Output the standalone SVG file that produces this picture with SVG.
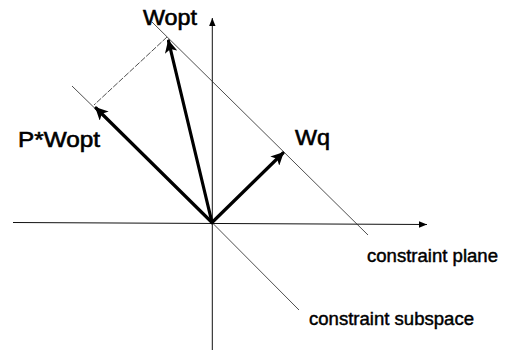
<svg xmlns="http://www.w3.org/2000/svg" width="506" height="352" viewBox="0 0 506 352">
<style>
.axis{stroke:#111;stroke-width:1;fill:none}
.thin{stroke:#222;stroke-width:0.8;fill:none}
.vec{stroke:#000;stroke-width:3.2;fill:none;stroke-linecap:round}
.lbl{font-family:"Liberation Sans",Arial,sans-serif;fill:#000;stroke:#000;stroke-width:0.6}
.big{font-size:22px}
.small{font-size:18px;stroke-width:0.45}
</style>
<defs>
<marker id="axh" viewBox="0 0 10 10" refX="10" refY="5" markerWidth="8" markerHeight="8" markerUnits="userSpaceOnUse" orient="auto">
<path d="M0,1 L10,5 L0,9 Z" fill="#000"/>
</marker>
<marker id="vh" viewBox="0 0 10 10" refX="9" refY="5" markerWidth="4" markerHeight="4" orient="auto">
<path d="M0,0 L10,5 L0,10 L2.5,5 Z" fill="#000"/>
</marker>
</defs>
<rect width="506" height="352" fill="#fff"/>
<g id="connectors">
<line id="x-axis" class="axis" x1="13" y1="222.5" x2="427" y2="224.5" marker-end="url(#axh)"/>
<line id="y-axis" class="axis" x1="212.3" y1="350" x2="212.3" y2="18" marker-end="url(#axh)"/>
<line id="plane-line" class="thin" x1="152" y1="22" x2="368" y2="235"/>
<polyline id="subspace-line" class="thin" points="72,86 212,222.5 299,310"/>
<line id="projection" class="thin" x1="167" y1="37" x2="94" y2="105" stroke-dasharray="6 1.5"/>
<line id="wopt-vec" class="vec" x1="212" y1="222.5" x2="168.5" y2="41" marker-end="url(#vh)"/>
<line id="pwopt-vec" class="vec" x1="212" y1="222.5" x2="96" y2="108" marker-end="url(#vh)"/>
<line id="wq-vec" class="vec" x1="212" y1="222.5" x2="283" y2="153" marker-end="url(#vh)"/>
</g>
<g id="label-wopt"><text class="lbl big" x="143" y="25" textLength="54" lengthAdjust="spacingAndGlyphs">Wopt</text></g>
<g id="label-pwopt"><text class="lbl big" x="18" y="147" textLength="82" lengthAdjust="spacingAndGlyphs">P*Wopt</text></g>
<g id="label-wq"><text class="lbl big" x="295" y="145" textLength="35" lengthAdjust="spacingAndGlyphs">Wq</text></g>
<g id="label-plane"><text class="lbl small" x="367" y="262" textLength="131" lengthAdjust="spacingAndGlyphs">constraint plane</text></g>
<g id="label-subspace"><text class="lbl small" x="309" y="325" textLength="165" lengthAdjust="spacingAndGlyphs">constraint subspace</text></g>
</svg>
